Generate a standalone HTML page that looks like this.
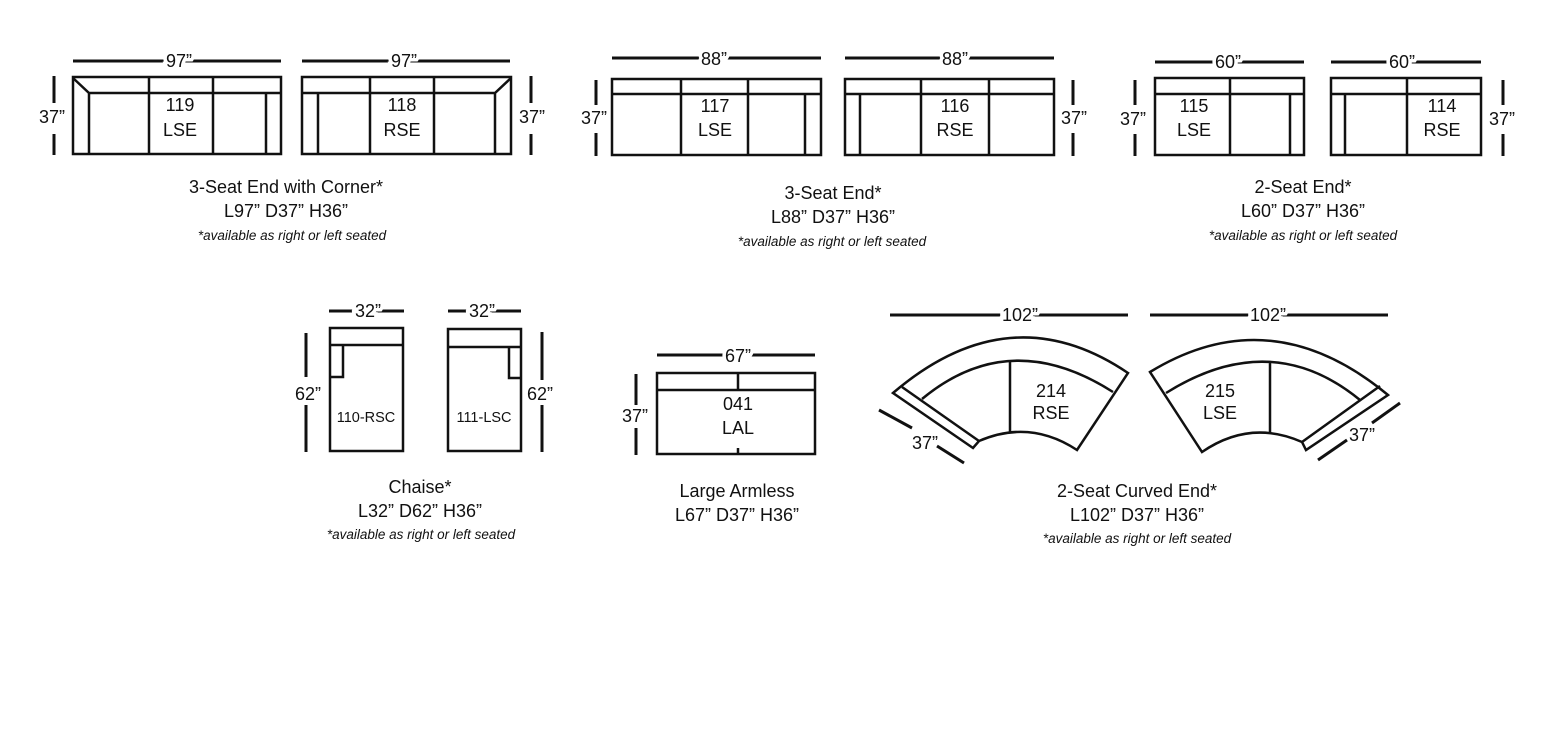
<!DOCTYPE html>
<html><head><meta charset="utf-8"><style>
html,body{margin:0;padding:0;background:#fff;}
svg{display:block;}
text{font-family:"Liberation Sans",sans-serif;fill:#111;}
.d{font-size:18px;}
.dl{stroke:#111;stroke-width:3;fill:none;}
.s{stroke:#111;stroke-width:2.5;fill:none;}
.t{stroke:#fff;stroke-width:7;paint-order:stroke;font-size:18px;}
.c{font-size:18px;}
.i{font-size:13.5px;font-style:italic;}
</style></head><body>
<svg width="1546" height="729" viewBox="0 0 1546 729" xmlns="http://www.w3.org/2000/svg">
<g text-anchor="middle">
<!-- 119 LSE -->
<line class="dl" x1="73" y1="61" x2="281" y2="61"/><text class="t" x="179" y="67">97”</text>
<line class="dl" x1="54" y1="76" x2="54" y2="103"/><line class="dl" x1="54" y1="134" x2="54" y2="155"/><text class="d" x="52" y="123">37”</text>
<rect class="s" x="73" y="77" width="208" height="77"/>
<path class="s" d="M73 78 L89 93 L281 93 M89 93 V154 M149 77 V154 M213 77 V154 M266 93 V154"/>
<text class="c" x="180" y="111">119</text><text class="c" x="180" y="136">LSE</text>
<!-- 118 RSE -->
<line class="dl" x1="302" y1="61" x2="510" y2="61"/><text class="t" x="404" y="67">97”</text>
<line class="dl" x1="531" y1="76" x2="531" y2="103"/><line class="dl" x1="531" y1="134" x2="531" y2="155"/><text class="d" x="532" y="123">37”</text>
<rect class="s" x="302" y="77" width="209" height="77"/>
<path class="s" d="M511 78 L495 93 L302 93 M495 93 V154 M318 93 V154 M370 77 V154 M434 77 V154"/>
<text class="c" x="402" y="111">118</text><text class="c" x="402" y="136">RSE</text>
<text class="c" x="286" y="193">3-Seat End with Corner*</text>
<text class="c" x="286" y="217">L97”  D37”  H36”</text>
<text class="i" x="292" y="240">*available as right or left seated</text>

<!-- 117 LSE -->
<line class="dl" x1="612" y1="58" x2="821" y2="58"/><text class="t" x="714" y="65">88”</text>
<line class="dl" x1="596" y1="80" x2="596" y2="105"/><line class="dl" x1="596" y1="133" x2="596" y2="156"/><text class="d" x="594" y="124">37”</text>
<rect class="s" x="612" y="79" width="209" height="76"/>
<path class="s" d="M612 94 H821 M681 79 V155 M748 79 V155 M805 94 V155"/>
<text class="c" x="715" y="112">117</text><text class="c" x="715" y="136">LSE</text>
<!-- 116 RSE -->
<line class="dl" x1="845" y1="58" x2="1054" y2="58"/><text class="t" x="955" y="65">88”</text>
<line class="dl" x1="1073" y1="80" x2="1073" y2="105"/><line class="dl" x1="1073" y1="133" x2="1073" y2="156"/><text class="d" x="1074" y="124">37”</text>
<rect class="s" x="845" y="79" width="209" height="76"/>
<path class="s" d="M845 94 H1054 M921 79 V155 M989 79 V155 M860 94 V155"/>
<text class="c" x="955" y="112">116</text><text class="c" x="955" y="136">RSE</text>
<text class="c" x="833" y="199">3-Seat End*</text>
<text class="c" x="833" y="223">L88”  D37”  H36”</text>
<text class="i" x="832" y="246">*available as right or left seated</text>

<!-- 115 LSE -->
<line class="dl" x1="1155" y1="62" x2="1304" y2="62"/><text class="t" x="1228" y="68">60”</text>
<line class="dl" x1="1135" y1="80" x2="1135" y2="105"/><line class="dl" x1="1135" y1="134" x2="1135" y2="156"/><text class="d" x="1133" y="125">37”</text>
<rect class="s" x="1155" y="78" width="149" height="77"/>
<path class="s" d="M1155 94 H1304 M1230 78 V155 M1290 94 V155"/>
<text class="c" x="1194" y="112">115</text><text class="c" x="1194" y="136">LSE</text>
<!-- 114 RSE -->
<line class="dl" x1="1331" y1="62" x2="1481" y2="62"/><text class="t" x="1402" y="68">60”</text>
<line class="dl" x1="1503" y1="80" x2="1503" y2="105"/><line class="dl" x1="1503" y1="134" x2="1503" y2="156"/><text class="d" x="1502" y="125">37”</text>
<rect class="s" x="1331" y="78" width="150" height="77"/>
<path class="s" d="M1331 94 H1481 M1407 78 V155 M1345 94 V155"/>
<text class="c" x="1442" y="112">114</text><text class="c" x="1442" y="136">RSE</text>
<text class="c" x="1303" y="193">2-Seat End*</text>
<text class="c" x="1303" y="217">L60”  D37”  H36”</text>
<text class="i" x="1303" y="240">*available as right or left seated</text>

<!-- Chaise 110 -->
<line class="dl" x1="329" y1="311" x2="404" y2="311"/><text class="t" x="368" y="317">32”</text>
<line class="dl" x1="306" y1="333" x2="306" y2="377"/><line class="dl" x1="306" y1="405" x2="306" y2="452"/><text class="d" x="308" y="400">62”</text>
<rect class="s" x="330" y="328" width="73" height="123"/>
<path class="s" d="M330 345 H403 M343 345 V377 H330"/>
<text x="366" y="422" style="font-size:14.5px">110-RSC</text>
<!-- Chaise 111 -->
<line class="dl" x1="448" y1="311" x2="521" y2="311"/><text class="t" x="482" y="317">32”</text>
<line class="dl" x1="542" y1="332" x2="542" y2="380"/><line class="dl" x1="542" y1="405" x2="542" y2="452"/><text class="d" x="540" y="400">62”</text>
<rect class="s" x="448" y="329" width="73" height="122"/>
<path class="s" d="M448 347 H521 M509 347 V378 H521"/>
<text x="484" y="422" style="font-size:14.5px">111-LSC</text>
<text class="c" x="420" y="493">Chaise*</text>
<text class="c" x="420" y="517">L32”  D62”  H36”</text>
<text class="i" x="421" y="539">*available as right or left seated</text>

<!-- Large Armless -->
<line class="dl" x1="657" y1="355" x2="815" y2="355"/><text class="t" x="738" y="362">67”</text>
<line class="dl" x1="636" y1="374" x2="636" y2="405"/><line class="dl" x1="636" y1="428" x2="636" y2="455"/><text class="d" x="635" y="422">37”</text>
<rect class="s" x="657" y="373" width="158" height="81"/>
<path class="s" d="M657 390 H815 M738 373 V390 M738 454 V448"/>
<text class="c" x="738" y="410">041</text><text class="c" x="738" y="434">LAL</text>
<text class="c" x="737" y="497">Large Armless</text>
<text class="c" x="737" y="521">L67”  D37”  H36”</text>

<!-- 214 RSE curved -->
<line class="dl" x1="890" y1="315" x2="1128" y2="315"/><text class="t" x="1020" y="321">102”</text>
<path class="s" d="M893 393 Q1010 293 1128 373 L1077 450 Q1030 419 979 441 L973 448 Z"/>
<path class="s" d="M902 387 L979 441 M922 399 Q1010 326 1113 392 M1010 362 V432"/>
<line class="dl" x1="879" y1="410" x2="912" y2="428"/><line class="dl" x1="937" y1="446" x2="964" y2="463"/>
<text class="d" x="925" y="449">37”</text>
<text class="c" x="1051" y="397">214</text><text class="c" x="1051" y="419">RSE</text>

<!-- 215 LSE curved -->
<line class="dl" x1="1150" y1="315" x2="1388" y2="315"/><text class="t" x="1268" y="321">102”</text>
<path class="s" d="M1150 372 Q1271 298 1388 395 L1306 450 L1302 442 Q1250 419 1202 452 Z"/>
<path class="s" d="M1380 386 L1302 442 M1166 393 Q1271 327 1360 400 M1270 362 V433"/>
<line class="dl" x1="1318" y1="460" x2="1347" y2="440"/><line class="dl" x1="1372" y1="423" x2="1400" y2="403"/>
<text class="d" x="1362" y="441">37”</text>
<text class="c" x="1220" y="397">215</text><text class="c" x="1220" y="419">LSE</text>
<text class="c" x="1137" y="497">2-Seat Curved End*</text>
<text class="c" x="1137" y="521">L102”  D37”  H36”</text>
<text class="i" x="1137" y="543">*available as right or left seated</text>
</g>
</svg>
</body></html>
